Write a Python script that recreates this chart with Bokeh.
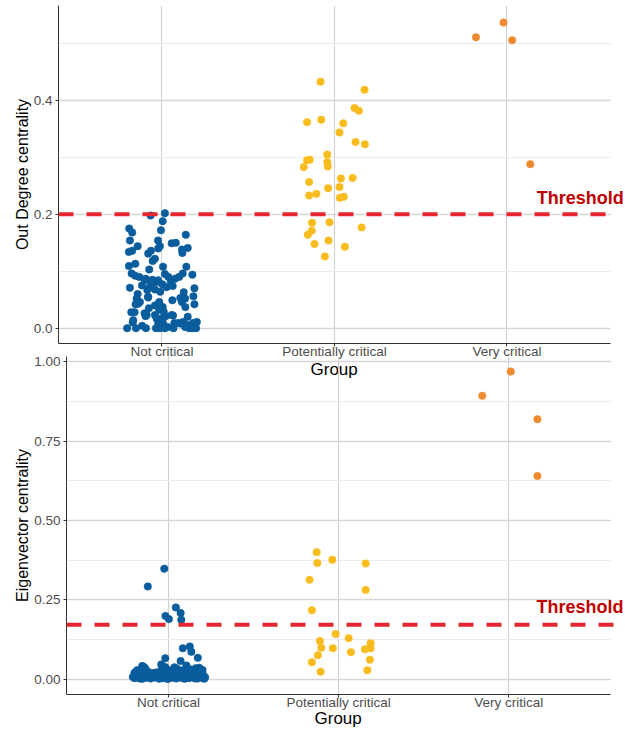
from bokeh.plotting import figure
from bokeh.models import FixedTicker, Span, Label, ColumnDataSource, BoxAnnotation, Title
from bokeh.layouts import column
from bokeh.embed import file_html
from bokeh.resources import INLINE

groups = ["Not critical", "Potentially critical", "Very critical"]
colors = {"Not critical": "#0A5D9D", "Potentially critical": "#F9BC1E", "Very critical": "#F08A30"}

# ---------------- Out Degree centrality ----------------
od_threshold = 0.2
od_nc_jit = [0.017, -0.066, 0.004, -0.006, -0.190, -0.173, 0.138, -0.186, -0.023, 0.056,
             0.080, -0.141, -0.012, 0.149, 0.116, -0.192, -0.173, -0.080, -0.064, 0.118,
             -0.041, -0.054, -0.192, -0.155, 0.006, 0.141, -0.074, -0.176, -0.155, -0.132,
             0.120, 0.176, 0.017, 0.037, -0.095, -0.056, -0.031, 0.076, 0.099, 0.051,
             0.002, -0.116, -0.072, -0.186, 0.027, 0.062, 0.188, -0.085, -0.041, -0.010,
             0.126, -0.141, 0.182, -0.081, 0.106, 0.060, -0.016, -0.153, -0.128, 0.188,
             0.135, -0.076, 0.004, -0.016, -0.178, -0.159, -0.101, -0.041, 0.064, 0.010,
             -0.095, 0.149, -0.004, 0.022, -0.170, -0.022, 0.006, 0.072, 0.122, 0.180,
             0.202, -0.202, -0.151, -0.115, -0.093, -0.035, -0.012, 0.016, 0.033, 0.066,
             0.106, 0.144, 0.157, 0.176, 0.198, 0.095, 0.134, -0.147, -0.080, -0.138,
             -0.041, 0.134, 0.115, 0.056, -0.089, -0.167, -0.031, -0.099, -0.060, -0.022,
             -0.022]
od_nc_val = [0.202, 0.198, 0.188, 0.172, 0.175, 0.168, 0.164, 0.154, 0.154, 0.149,
             0.150, 0.144, 0.144, 0.141, 0.138, 0.134, 0.136, 0.131, 0.136, 0.132,
             0.122, 0.118, 0.109, 0.113, 0.108, 0.108, 0.103, 0.096, 0.092, 0.090,
             0.096, 0.094, 0.095, 0.090, 0.087, 0.085, 0.081, 0.087, 0.090, 0.081,
             0.077, 0.075, 0.072, 0.071, 0.072, 0.074, 0.070, 0.067, 0.068, 0.064,
             0.063, 0.060, 0.056, 0.055, 0.053, 0.049, 0.046, 0.042, 0.046, 0.042,
             0.037, 0.035, 0.037, 0.032, 0.028, 0.028, 0.026, 0.023, 0.022, 0.029,
             0.021, 0.020, 0.017, 0.021, 0.010, 0.009, 0.009, 0.009, 0.011, 0.009,
             0.011, 0.000, 0.000, 0.004, 0.000, 0.000, 0.000, 0.000, 0.002, 0.000,
             0.008, 0.006, 0.000, 0.000, 0.000, 0.009, 0.002, 0.052, 0.054, 0.043,
             0.040, 0.052, 0.046, 0.023, 0.023, 0.014, 0.017, 0.084, 0.078, 0.084,
             0.140]
od_pc_jit = [-0.081, 0.174, 0.116, 0.141, -0.159, -0.077, 0.051, 0.029, 0.122, 0.176,
             -0.042, -0.159, -0.144, -0.042, -0.039, -0.178, -0.147, 0.037, 0.105, -0.037,
             0.029, -0.147, -0.105, 0.031, 0.054, -0.130, -0.029, 0.157, -0.132, -0.155,
             -0.035, -0.116, 0.060, -0.056]
od_pc_val = [0.433, 0.419, 0.387, 0.382, 0.362, 0.366, 0.360, 0.344, 0.327, 0.323,
             0.305, 0.295, 0.296, 0.292, 0.284, 0.283, 0.257, 0.263, 0.264, 0.246,
             0.248, 0.233, 0.236, 0.229, 0.231, 0.185, 0.186, 0.177, 0.171, 0.164,
             0.154, 0.148, 0.143, 0.126]
od_vc_jit = [-0.180, -0.020, 0.030, 0.135]
od_vc_val = [0.511, 0.537, 0.506, 0.288]

# ---------------- Eigenvector centrality ----------------
ev_threshold = 0.171
ev_nc_jit = [-0.025, -0.122, 0.043, 0.071, -0.018, 0.002, 0.075,
             0.084, 0.125, 0.134, 0.172, -0.019, -0.043, 0.071, -0.155,
             -0.20, -0.18, -0.155, -0.13, -0.105, -0.08, -0.055, -0.03, -0.005, 0.02,
             0.045, 0.07, 0.095, 0.12, 0.145, 0.17, 0.195, 0.215,
             -0.19, -0.165, -0.14, -0.118, -0.09, -0.065, -0.04, -0.018, 0.008, 0.032,
             0.058, 0.083, 0.108, 0.133, 0.158, 0.183, 0.205,
             -0.2, -0.172, -0.147, -0.1, -0.075, -0.05, -0.01, 0.015, 0.04, 0.065,
             0.09, 0.115, 0.14, 0.168, 0.195,
             -0.185, -0.16, -0.135, -0.045, 0.0, 0.05, 0.085, 0.125, 0.16, 0.2,
             -0.15, -0.14, -0.02, 0.035, 0.105, 0.18,
             -0.21, -0.168, -0.142, -0.093, -0.068, -0.043, -0.02, 0.03, 0.057, 0.082,
             0.107, 0.132, 0.157, 0.188, 0.21,
             -0.185, -0.125, -0.088, -0.035, 0.0, 0.027, 0.075, 0.1, 0.15, 0.18]
ev_nc_val = [0.348, 0.292, 0.226, 0.208, 0.199, 0.189, 0.187,
             0.097, 0.103, 0.086, 0.067, 0.066, 0.046, 0.057, 0.041,
             0.003, 0.006, 0.001, 0.004, 0.002, 0.005, 0.001, 0.003, 0.000, 0.004,
             0.002, 0.006, 0.001, 0.003, 0.005, 0.002, 0.004, 0.006,
             0.012, 0.010, 0.014, 0.009, 0.013, 0.011, 0.015, 0.008, 0.012, 0.010,
             0.014, 0.009, 0.013, 0.011, 0.015, 0.010, 0.012,
             0.020, 0.018, 0.022, 0.019, 0.021, 0.017, 0.023, 0.020, 0.018, 0.024,
             0.019, 0.022, 0.020, 0.018, 0.021,
             0.028, 0.032, 0.030, 0.027, 0.029, 0.033, 0.028, 0.031, 0.034, 0.029,
             0.040, 0.036, 0.038, 0.037, 0.043, 0.036,
             0.007, 0.002, 0.008, 0.006, 0.009, 0.004, 0.007, 0.008, 0.005, 0.003,
             0.007, 0.009, 0.002, 0.007, 0.001,
             0.016, 0.025, 0.017, 0.024, 0.016, 0.026, 0.016, 0.025, 0.024, 0.026]
ev_pc_jit = [-0.129, -0.125, -0.037, 0.159, -0.171, 0.159, -0.157, -0.018, 0.059, -0.110,
             -0.102, -0.034, 0.188, 0.155, 0.188, 0.072, -0.122, -0.157, 0.184, -0.106,
             0.169]
ev_pc_val = [0.400, 0.366, 0.376, 0.364, 0.313, 0.281, 0.217, 0.142, 0.129, 0.120,
             0.099, 0.097, 0.113, 0.094, 0.097, 0.085, 0.075, 0.053, 0.061, 0.023,
             0.028]
ev_vc_jit = [0.012, -0.155, 0.169, 0.169]
ev_vc_val = [0.969, 0.893, 0.819, 0.640]

FONT = "Liberation Sans"
X_LO, X_HI, X_CANVAS = 0.4, 3.6, 3.687


def build(series, y_range, yticks, yminor, ylabels, ylabel, threshold, lab_xy,
          height, left, top, bottom, title_offset, title_standoff, margin=None):
    p = figure(width=625, height=height, x_range=(X_LO, X_CANVAS), y_range=y_range,
               output_backend="svg", toolbar_location=None,
               min_border_left=left, min_border_right=0, min_border_top=top,
               min_border_bottom=bottom)
    try:
        p.frame_align = False
    except Exception:
        pass
    if margin is not None:
        p.margin = margin
        p.border_fill_color = None
        p.background_fill_color = None
    p.outline_line_color = None

    # white strip beyond the panel's right edge (ggplot panel ends there)
    p.add_layout(BoxAnnotation(left=X_HI, fill_color="white", fill_alpha=1,
                               line_color=None, level="glyph"))

    for gi, (jit, val) in enumerate(series):
        g = groups[gi]
        src = ColumnDataSource(dict(x=[gi + 1 + j for j in jit], y=val))
        p.scatter("x", "y", source=src, size=7.5, fill_color=colors[g],
                  line_color=colors[g], line_width=0.5)

    p.add_layout(Span(location=threshold, dimension="width", line_color="#E3262F",
                      line_width=4, line_dash="15 13"))
    p.add_layout(BoxAnnotation(left=X_HI + 0.025, fill_color="white", fill_alpha=1,
                               line_color=None))
    p.add_layout(Label(x=lab_xy[0], y=lab_xy[1], text="Threshold",
                       text_font=FONT, text_font_style="bold",
                       text_font_size="18px", text_color="#C00000",
                       text_baseline="middle", text_align="left"))

    p.xaxis.ticker = FixedTicker(ticks=[1, 2, 3])
    p.xaxis.major_label_overrides = {1: groups[0], 2: groups[1], 3: groups[2]}
    p.xaxis.bounds = (X_LO, X_HI)
    p.yaxis.ticker = FixedTicker(ticks=yticks, minor_ticks=yminor)
    p.yaxis.major_label_overrides = dict(zip(yticks, ylabels))
    p.yaxis.axis_label = ylabel
    for ax in (p.xaxis, p.yaxis):
        ax.axis_line_color = "#333333"
        ax.axis_line_width = 1
        ax.major_tick_line_color = "#333333"
        ax.major_tick_out = 3
        ax.major_tick_in = 0
        ax.minor_tick_line_color = None
        ax.major_label_text_font = FONT
        ax.major_label_text_font_size = "13.5px"
        ax.major_label_text_color = "#4D4D4D"
        ax.axis_label_text_font = FONT
        ax.axis_label_text_font_style = "normal"
        ax.axis_label_text_color = "#000000"
    p.xaxis.major_label_standoff = -3
    p.yaxis.major_label_standoff = 2
    p.yaxis.axis_label_standoff = 0
    p.yaxis.axis_label_text_font_size = "16px"

    # x-axis title, centred on the ggplot panel (left-aligned + offset)
    p.add_layout(Title(text="Group", align="left", offset=title_offset,
                       standoff=title_standoff, vertical_align="top",
                       text_font=FONT, text_font_size="17px",
                       text_font_style="normal", text_color="#000000"), "below")

    p.xgrid.grid_line_color = "#d2d2d2"
    p.xgrid.grid_line_width = 1.2
    p.ygrid.grid_line_color = "#d6d6d6"
    p.ygrid.grid_line_width = 1.3
    p.ygrid.minor_grid_line_color = "#ebebeb"
    p.ygrid.minor_grid_line_width = 1
    return p


p1 = build([(od_nc_jit, od_nc_val), (od_pc_jit, od_pc_val), (od_vc_jit, od_vc_val)],
           (-0.027, 0.567), [0, 0.2, 0.4], [0.1, 0.3, 0.5], ["0.0", "0.2", "0.4"],
           "Out Degree centrality", od_threshold, (3.173, 0.228),
           height=382, left=58, top=5, bottom=39, title_offset=252, title_standoff=-4)

p2 = build([(ev_nc_jit, ev_nc_val), (ev_pc_jit, ev_pc_val), (ev_vc_jit, ev_vc_val)],
           (-0.0485, 1.0165), [0, 0.25, 0.5, 0.75, 1.0], [0.125, 0.375, 0.625, 0.875],
           ["0.00", "0.25", "0.50", "0.75", "1.00"],
           "Eigenvector centrality", ev_threshold, (3.163, 0.226),
           height=375, left=66, top=2, bottom=35, title_offset=248, title_standoff=-8,
           margin=(-28, 0, 0, 0))

layout = column(p1, p2, spacing=0)
open("out.html", "w").write(file_html(layout, INLINE))
